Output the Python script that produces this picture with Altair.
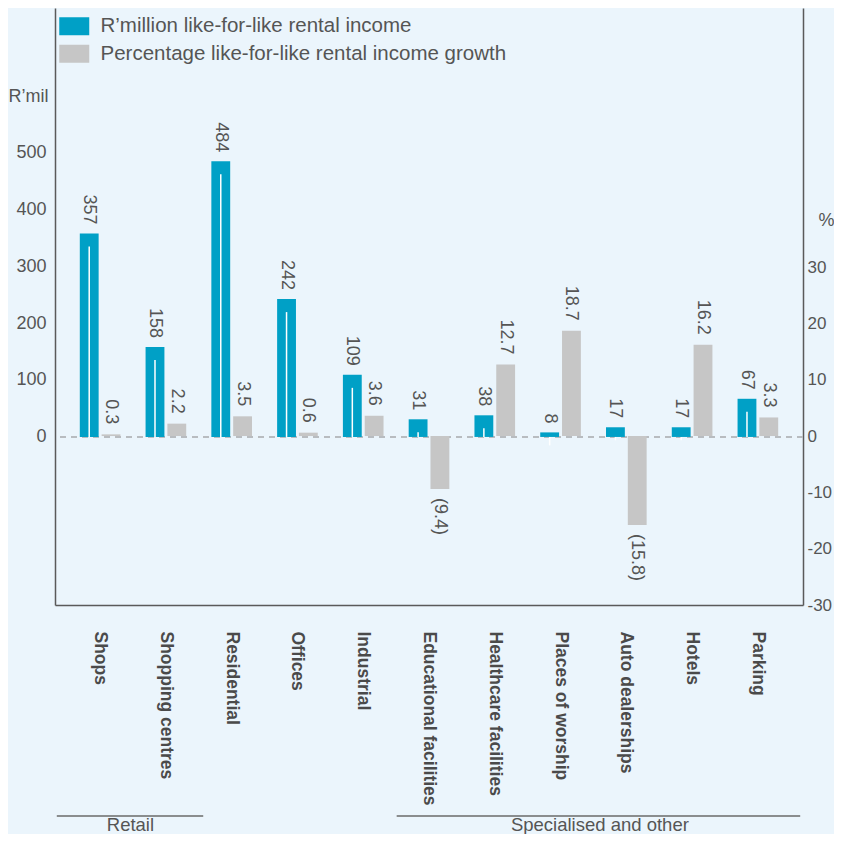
import altair as alt
import pandas as pd

categories = ["Shops", "Shopping centres", "Residential", "Offices", "Industrial",
              "Educational facilities", "Healthcare facilities", "Places of worship",
              "Auto dealerships", "Hotels", "Parking"]
income = [357, 158, 484, 242, 109, 31, 38, 8, 17, 17, 67]
growth = [0.3, 2.2, 3.5, 0.6, 3.6, -9.4, 12.7, 18.7, -15.8, 16.2, 3.3]
series_names = ["R\u2019million like-for-like rental income",
                "Percentage like-for-like rental income growth"]
groups = ["Retail", "Specialised and other"]
group_first = ["Shops", "Educational facilities"]
group_last = ["Shopping centres", "Parking"]
group_anchor = ["Shops", "Places of worship"]
income_ticks = [0, 100, 200, 300, 400, 500]
growth_ticks = [-30, -20, -10, 0, 10, 20, 30]

inc_df = pd.DataFrame({"category": categories, "value": income, "series": series_names[0]})
gr_df = pd.DataFrame({"category": categories, "value": growth, "series": series_names[1]})
grp_df = pd.DataFrame({"group": groups, "first": group_first, "last": group_last,
                       "anchor": group_anchor})

FONT = "Liberation Sans"
TXT = "#555555"
BLUE = "#00A0C6"
GREY = "#C6C6C6"
BG = "#EBF5FC"
AXC = "#5a5a5a"
W, H = 748, 597
PAD_L = 47

# per-group styling of the bracket lines / labels (pixel offsets from the band edges)
group_style = {
    "Retail": dict(x_off=-23, x2_off=17, text_off=10),
    "Specialised and other": dict(x_off=-12, x2_off=22, text_off=19),
}

xscale = alt.Scale(domain=categories, paddingInner=0.382, paddingOuter=0.377)
xaxis = alt.Axis(title=None, labelAngle=90, labelAlign="left", labelBaseline="middle",
                 labelPadding=26, labelFontSize=17.5, labelFontWeight="bold",
                 labelColor="#4a4a4a", labelFont=FONT, ticks=False, domainColor=AXC,
                 domainWidth=1.5, labelLimit=300, grid=False)
offscale = alt.Scale(domain=series_names, paddingInner=0.136, paddingOuter=0)
color = alt.Color(
    "series:N",
    scale=alt.Scale(domain=series_names, range=[BLUE, GREY]),
    legend=alt.Legend(title=None, orient="none", legendX=9, legendY=8, direction="vertical",
                      symbolType="M-1.5,-0.9H1.5V0.9H-1.5Z", symbolSize=400,
                      symbolStrokeWidth=0, symbolOpacity=1, labelFontSize=20.5,
                      labelColor=TXT, labelFont=FONT, labelOffset=16, rowPadding=6.5,
                      labelLimit=600, padding=0),
)

yl_scale = alt.Scale(domain=[-295, 753], nice=False, zero=False)
yl_axis = alt.Axis(values=income_ticks, orient="left", ticks=False, labelPadding=9,
                   labelFontSize=18, labelColor=TXT, labelFont=FONT, domainColor=AXC,
                   domainWidth=1.5, grid=False, title="R\u2019mil", titleAngle=0,
                   titleAlign="left", titleBaseline="alphabetic", titleX=-PAD_L, titleY=93,
                   titleFontSize=18, titleFontWeight="normal", titleColor=TXT,
                   titleFont=FONT, labelExpr="'' + datum.value")
yr_scale = alt.Scale(domain=[-30, 76], nice=False, zero=False)
yr_axis = alt.Axis(values=growth_ticks, orient="right", ticks=False, labelPadding=4,
                   labelFontSize=17, labelColor=TXT, labelFont=FONT, domainColor=AXC,
                   domainWidth=1.5, grid=False, title="%", titleAngle=0,
                   titleAlign="left", titleBaseline="alphabetic", titleX=15, titleY=217,
                   titleFontSize=18, titleFontWeight="normal", titleColor=TXT,
                   titleFont=FONT, labelExpr="'' + datum.value")


def X(field="category", **kw):
    return alt.X(f"{field}:N", scale=xscale, axis=xaxis, **kw)


def XO():
    return alt.XOffset("series:N", scale=offscale)


zero_rule = alt.Chart(inc_df).mark_rule(
    strokeDash=[6, 5], color="#b8bcc0", strokeWidth=1.5
).encode(y=alt.YDatum(0, scale=yl_scale, axis=yl_axis))

blue_bars = alt.Chart(inc_df).mark_bar().encode(
    x=X(), xOffset=XO(),
    y=alt.Y("value:Q", scale=yl_scale, axis=yl_axis),
    color=color,
)

white_rules = alt.Chart(inc_df).transform_calculate(zero="0").mark_rule(
    color="white", strokeWidth=1.5, yOffset=13
).encode(
    x=X(), xOffset=XO(),
    y=alt.Y("value:Q", scale=yl_scale, axis=yl_axis),
    y2="zero:Q",
)

blue_text = alt.Chart(inc_df).mark_text(
    angle=90, align="right", baseline="middle", yOffset=-9, fontSize=18,
    font=FONT, color=TXT
).encode(
    x=X(), xOffset=XO(),
    y=alt.Y("value:Q", scale=yl_scale, axis=yl_axis),
    text=alt.Text("value:Q", format="d"),
)

group_layers = []
for g in groups:
    st = group_style[g]
    base = alt.Chart(grp_df).transform_filter(alt.datum.group == g)
    group_layers.append(
        base.mark_rule(color="#6a6a6a", strokeWidth=1.5,
                       xOffset=st["x_off"], x2Offset=st["x2_off"]).encode(
            x=X("first", bandPosition=0),
            x2=alt.X2("last:N", bandPosition=1),
            y=alt.value(808),
        )
    )
    group_layers.append(
        base.mark_text(fontSize=18.5, font=FONT, color=TXT, baseline="alphabetic",
                       align="center", xOffset=st["text_off"]).encode(
            x=X("anchor", bandPosition=1),
            y=alt.value(823),
            text="group:N",
        )
    )

left = alt.layer(zero_rule, blue_bars, white_rules, blue_text, *group_layers)

label_expr = ("datum.value < 0 ? '(' + format(-datum.value, '.1f') + ')'"
              " : format(datum.value, '.1f')")

grey_bars = alt.Chart(gr_df).mark_bar().encode(
    x=X(), xOffset=XO(),
    y=alt.Y("value:Q", scale=yr_scale, axis=yr_axis),
    color=color,
)

grey_text_pos = alt.Chart(gr_df).transform_filter("datum.value >= 0").transform_calculate(
    label=label_expr
).mark_text(
    angle=90, align="right", baseline="middle", yOffset=-10, fontSize=18,
    font=FONT, color=TXT
).encode(
    x=X(), xOffset=XO(),
    y=alt.Y("value:Q", scale=yr_scale, axis=yr_axis),
    text="label:N",
)

grey_text_neg = alt.Chart(gr_df).transform_filter("datum.value < 0").transform_calculate(
    label=label_expr
).mark_text(
    angle=90, align="left", baseline="middle", yOffset=9, fontSize=18,
    font=FONT, color=TXT
).encode(
    x=X(), xOffset=XO(),
    y=alt.Y("value:Q", scale=yr_scale, axis=yr_axis),
    text="label:N",
)

right = alt.layer(grey_bars, grey_text_pos, grey_text_neg)

chart = alt.layer(left, right).resolve_scale(y="independent").properties(
    width=W, height=H,
    padding={"left": PAD_L, "top": 0, "right": 31, "bottom": 229},
    autosize=alt.AutoSizeParams(type="none"),
    background=BG,
).configure_view(stroke=None).configure_axis(grid=False)

chart.save("out.html", embed_options={"renderer": "svg", "actions": False})
